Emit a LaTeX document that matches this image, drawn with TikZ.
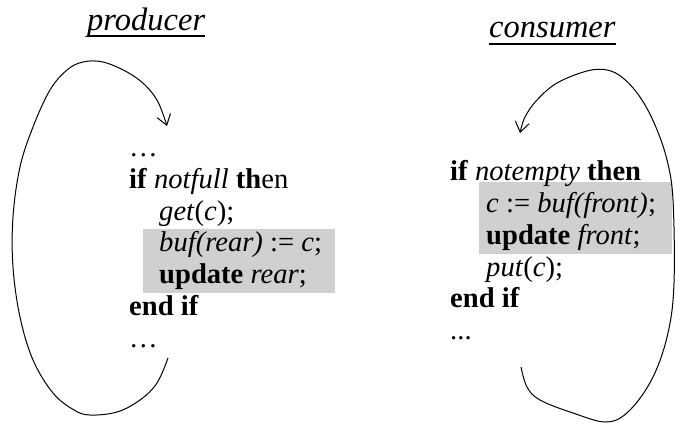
\documentclass[tikz,border=0pt]{standalone}
\usepackage{fontspec}
\setmainfont{Liberation Serif}
\usetikzlibrary{arrows.meta,calc}
\definecolor{shade}{RGB}{208,208,208}
\tikzset{
  line/.style={anchor=base west, inner sep=0pt, font=\fontsize{28.6}{32}\selectfont},
  ttl/.style={anchor=base west, inner sep=0pt, font=\fontsize{32.5}{36}\selectfont\itshape},
  loop/.style={line width=1pt, -{Straight Barb[length=10pt,width=14pt,line width=1pt]}},
  ul/.style={line width=2pt},
  hl/.style={fill=shade, draw=none}
}
\begin{document}
\begin{tikzpicture}[x=1pt,y=-1pt]
\useasboundingbox (0,0) rectangle (675,423);
% highlight boxes
\fill[hl] (143,229) rectangle (335,293);
\fill[hl] (479,182) rectangle (672,254);
% titles
\node[ttl] (ptitle) at (87,30) {producer};
\node[ttl] (ctitle) at (489,37) {consumer};
\draw[ul] ($(ptitle.base west)+(0,6)$) -- ($(ptitle.base east)+(0,6)$);
\draw[ul] ($(ctitle.base west)+(0,7)$) -- ($(ctitle.base east)+(0,7)$);
% producer code
\node[line] (p1) at (129,156) {…};
\node[line] (p2) at (129,188) {\textbf{if} \textit{notfull} \textbf{th}en};
\node[line] (p3) at (159,220) {\textit{get}(\textit{c});};
\node[line] (p4) at (159,251) {\textit{buf(rear)} := \textit{c};};
\node[line] (p5) at (159,283) {\textbf{update} \textit{rear};};
\node[line] (p6) at (129,315) {\textbf{end if}};
\node[line] (p7) at (129,347) {…};
% consumer code
\node[line] (c1) at (450,180) {\textbf{if} \textit{notempty} \textbf{then}};
\node[line] (c2) at (486,212) {\textit{c} := \textit{buf(front}\textit{)};};
\node[line] (c3) at (486,244) {\textbf{update} \textit{front};};
\node[line] (c4) at (486,276) {\textit{put}(\textit{c});};
\node[line] (c5) at (450,307) {\textbf{end if}};
\node[line] (c6) at (450,339) {...};
% loops
\draw[loop] plot[smooth, tension=0.6] coordinates {
  (168,358) (157,383) (140,400) (117,412) (90,415) (74,410) (53,393) (33,360)
  (20,317) (13,267) (13,217) (20,167) (33,127) (50,90) (67,70) (83,62)
  (103,62) (127,72) (145,85) (158,102) (167,126)};
\draw[loop] plot[smooth, tension=0.6] coordinates {
  (521,367) (527,387) (540,400) (573,413) (607,422) (630,410) (653,377)
  (668,333) (674,283) (673,200) (667,160) (655,125) (640,97) (623,78)
  (607,70) (587,71) (557,83) (537,100) (525,117) (520,133)};
\end{tikzpicture}
\end{document}
